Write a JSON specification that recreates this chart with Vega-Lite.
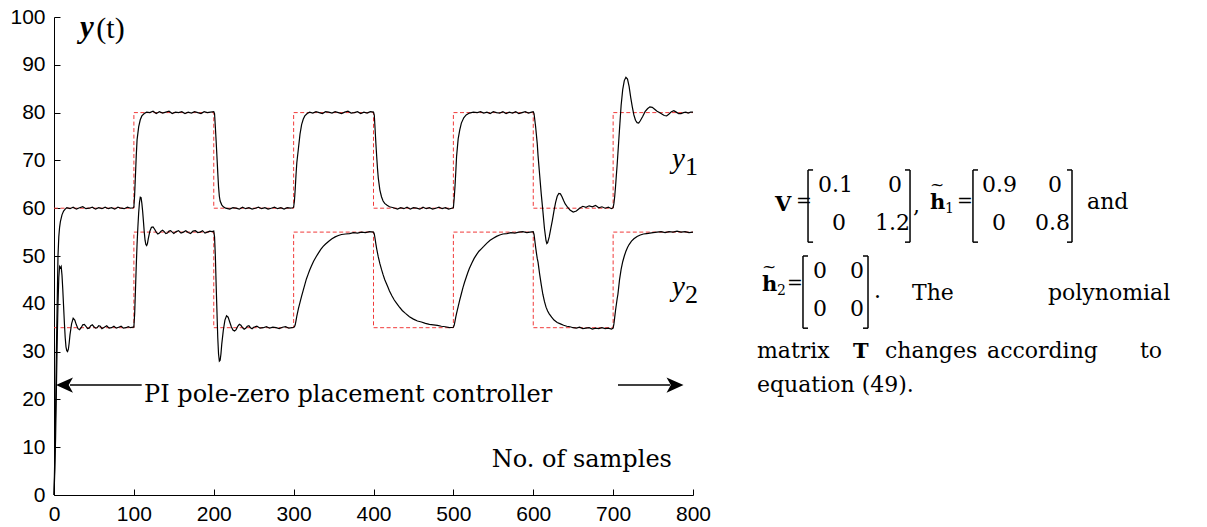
{
"$schema": "https://vega.github.io/schema/vega-lite/v6.json",
"width": 639, "height": 478,
"autosize": {"type": "none"},
"padding": {"left": 54, "top": 17, "right": 514, "bottom": 32},
"background": "white",
"config": {"view": {"stroke": null}},
"datasets": {
"y1": [{"t":0,"v":0},{"t":1,"v":8},{"t":2,"v":18},{"t":3,"v":30},{"t":4,"v":40},{"t":5,"v":50},{"t":6,"v":54},{"t":7,"v":56},{"t":8,"v":57.2},{"t":10,"v":58.6},{"t":12,"v":59.4},{"t":14,"v":59.8},{"t":16,"v":60.1},{"t":20,"v":59.9},{"t":24,"v":60.2},{"t":28,"v":59.8},{"t":32,"v":60.1},{"t":36,"v":60.3},{"t":40,"v":59.9},{"t":44,"v":60.0},{"t":48,"v":60.2},{"t":52,"v":59.8},{"t":56,"v":60.1},{"t":60,"v":59.9},{"t":64,"v":60.2},{"t":68,"v":59.9},{"t":72,"v":60.1},{"t":76,"v":59.8},{"t":80,"v":60.2},{"t":84,"v":60.0},{"t":88,"v":59.9},{"t":92,"v":60.2},{"t":96,"v":60.0},{"t":99,"v":60.1},
{"t":100,"v":60.2},{"t":101,"v":63},{"t":102,"v":67},{"t":103,"v":71},{"t":104,"v":74.3},{"t":106,"v":77},{"t":108,"v":78.5},{"t":110,"v":79.3},{"t":113,"v":79.8},{"t":116,"v":80.1},{"t":120,"v":80.0},{"t":124,"v":80.3},{"t":128,"v":79.8},{"t":132,"v":80.2},{"t":136,"v":79.9},{"t":140,"v":80.1},{"t":144,"v":80.3},{"t":148,"v":79.8},{"t":152,"v":80.1},{"t":156,"v":80.0},{"t":160,"v":80.2},{"t":164,"v":79.8},{"t":168,"v":80.1},{"t":172,"v":79.9},{"t":176,"v":80.2},{"t":180,"v":80.0},{"t":184,"v":79.8},{"t":188,"v":80.2},{"t":192,"v":80.0},{"t":196,"v":80.1},{"t":200,"v":80.2},
{"t":201,"v":79.8},{"t":202,"v":77},{"t":203,"v":74},{"t":204,"v":70.8},{"t":205,"v":67.5},{"t":206,"v":64.5},{"t":207,"v":62.5},{"t":208,"v":61.5},{"t":210,"v":60.7},{"t":212,"v":60.3},{"t":215,"v":60.0},{"t":220,"v":59.8},{"t":224,"v":60.1},{"t":228,"v":60.0},{"t":232,"v":59.8},{"t":236,"v":60.2},{"t":240,"v":59.9},{"t":244,"v":60.1},{"t":248,"v":59.8},{"t":252,"v":60.0},{"t":256,"v":60.2},{"t":260,"v":59.9},{"t":264,"v":60.1},{"t":268,"v":59.8},{"t":272,"v":60.0},{"t":276,"v":60.2},{"t":280,"v":59.9},{"t":284,"v":60.1},{"t":288,"v":59.8},{"t":292,"v":60.1},{"t":296,"v":60.0},{"t":299,"v":60.1},
{"t":300,"v":60.2},{"t":301,"v":61.5},{"t":302,"v":64},{"t":303,"v":67},{"t":304,"v":69.5},{"t":306,"v":72.5},{"t":308,"v":75.5},{"t":310,"v":77.5},{"t":312,"v":78.6},{"t":314,"v":79.3},{"t":317,"v":79.8},{"t":320,"v":80.1},{"t":324,"v":79.9},{"t":328,"v":80.2},{"t":332,"v":80.0},{"t":336,"v":79.8},{"t":340,"v":80.2},{"t":344,"v":80.1},{"t":348,"v":79.9},{"t":352,"v":80.2},{"t":356,"v":80.0},{"t":360,"v":79.8},{"t":364,"v":80.1},{"t":368,"v":80.3},{"t":372,"v":79.9},{"t":376,"v":80.0},{"t":380,"v":80.2},{"t":384,"v":79.8},{"t":388,"v":80.1},{"t":392,"v":79.9},{"t":396,"v":80.2},{"t":400,"v":80.1},
{"t":401,"v":79.5},{"t":402,"v":76.5},{"t":403,"v":73.5},{"t":404,"v":70.8},{"t":405,"v":68.3},{"t":406,"v":66.3},{"t":408,"v":63.8},{"t":410,"v":62.4},{"t":412,"v":61.5},{"t":414,"v":61.0},{"t":417,"v":60.6},{"t":420,"v":60.3},{"t":425,"v":60.1},{"t":430,"v":59.8},{"t":434,"v":60.1},{"t":438,"v":59.9},{"t":442,"v":60.2},{"t":446,"v":59.8},{"t":450,"v":60.1},{"t":454,"v":60.0},{"t":458,"v":59.8},{"t":462,"v":60.2},{"t":466,"v":59.9},{"t":470,"v":60.1},{"t":474,"v":59.8},{"t":478,"v":60.0},{"t":482,"v":60.2},{"t":486,"v":59.9},{"t":490,"v":60.1},{"t":494,"v":59.8},{"t":498,"v":60.0},{"t":500,"v":60.1},
{"t":501,"v":62},{"t":502,"v":64.5},{"t":503,"v":67.5},{"t":504,"v":70.8},{"t":506,"v":74.5},{"t":508,"v":76.4},{"t":510,"v":77.8},{"t":513,"v":78.9},{"t":516,"v":79.5},{"t":520,"v":79.9},{"t":525,"v":80.1},{"t":530,"v":80.0},{"t":534,"v":80.2},{"t":538,"v":79.9},{"t":542,"v":80.1},{"t":546,"v":79.8},{"t":550,"v":80.2},{"t":554,"v":80.0},{"t":558,"v":79.9},{"t":562,"v":80.2},{"t":566,"v":79.8},{"t":570,"v":80.1},{"t":574,"v":79.9},{"t":578,"v":80.2},{"t":582,"v":79.8},{"t":586,"v":80.0},{"t":590,"v":80.2},{"t":594,"v":79.9},{"t":598,"v":80.1},{"t":600,"v":80.2},
{"t":601,"v":79.8},{"t":603,"v":77},{"t":605,"v":73.5},{"t":606,"v":71},{"t":608,"v":67},{"t":610,"v":63},{"t":612,"v":59.5},{"t":614,"v":55.8},{"t":616,"v":53.2},{"t":617,"v":52.6},{"t":618,"v":52.8},{"t":620,"v":54},{"t":622,"v":55.8},{"t":624,"v":57.5},{"t":626,"v":59.5},{"t":628,"v":61.2},{"t":630,"v":62.5},{"t":632,"v":63.1},{"t":634,"v":63.0},{"t":636,"v":62.4},{"t":638,"v":61.6},{"t":640,"v":60.9},{"t":643,"v":60.2},{"t":646,"v":59.6},{"t":650,"v":59.2},{"t":654,"v":59.4},{"t":658,"v":60.0},{"t":662,"v":60.4},{"t":666,"v":60.2},{"t":670,"v":60.5},{"t":674,"v":60.3},{"t":678,"v":60.6},{"t":682,"v":60.1},{"t":686,"v":60.3},{"t":690,"v":60.0},{"t":694,"v":60.2},{"t":698,"v":59.9},{"t":700,"v":60.1},
{"t":701,"v":61},{"t":702,"v":62.5},{"t":703,"v":64.5},{"t":704,"v":66.8},{"t":705,"v":69},{"t":706,"v":71.5},{"t":707,"v":74},{"t":708,"v":76.5},{"t":709,"v":79},{"t":710,"v":81.5},{"t":712,"v":84.8},{"t":714,"v":86.7},{"t":716,"v":87.4},{"t":718,"v":87.0},{"t":720,"v":85.5},{"t":722,"v":83.2},{"t":724,"v":81.2},{"t":726,"v":79.5},{"t":728,"v":78.4},{"t":730,"v":77.9},{"t":732,"v":77.8},{"t":734,"v":78.3},{"t":737,"v":79.2},{"t":740,"v":80.2},{"t":743,"v":80.8},{"t":746,"v":81.2},{"t":749,"v":81.1},{"t":752,"v":80.7},{"t":755,"v":80.3},{"t":758,"v":80.0},{"t":761,"v":79.7},{"t":764,"v":79.4},{"t":767,"v":79.3},{"t":770,"v":79.7},{"t":773,"v":80.2},{"t":776,"v":80.4},{"t":779,"v":80.1},{"t":782,"v":79.8},{"t":785,"v":79.8},{"t":788,"v":80.0},{"t":791,"v":80.1},{"t":794,"v":79.9},{"t":797,"v":80.1},{"t":800,"v":80.1}],
"y2": [{"t":0,"v":0},{"t":1,"v":5},{"t":2,"v":12},{"t":3,"v":22},{"t":4,"v":32},{"t":5,"v":40},{"t":6,"v":45.5},{"t":7,"v":47.8},{"t":8,"v":47.5},{"t":9,"v":47.8},{"t":10,"v":46},{"t":11,"v":43},{"t":12,"v":39.5},{"t":13,"v":36},{"t":14,"v":33},{"t":15,"v":31},{"t":16,"v":30.2},{"t":17,"v":30.0},{"t":18,"v":30.5},{"t":19,"v":31.8},{"t":20,"v":33.5},{"t":22,"v":35.8},{"t":24,"v":37},{"t":26,"v":36.6},{"t":28,"v":35.6},{"t":30,"v":34.8},{"t":32,"v":34.6},{"t":34,"v":35.0},{"t":36,"v":35.6},{"t":38,"v":35.7},{"t":40,"v":35.3},{"t":42,"v":34.8},{"t":44,"v":34.9},{"t":46,"v":35.4},{"t":48,"v":35.6},{"t":50,"v":35.2},{"t":52,"v":34.9},{"t":54,"v":35.0},{"t":56,"v":35.4},{"t":58,"v":35.3},{"t":60,"v":34.8},{"t":63,"v":35.1},{"t":66,"v":35.4},{"t":69,"v":34.9},{"t":72,"v":35.0},{"t":75,"v":35.3},{"t":78,"v":34.9},{"t":81,"v":35.1},{"t":84,"v":35.3},{"t":87,"v":34.9},{"t":90,"v":35.0},{"t":93,"v":35.2},{"t":96,"v":35.0},{"t":99,"v":35.1},
{"t":100,"v":35.1},{"t":101,"v":38},{"t":102,"v":43},{"t":103,"v":48},{"t":104,"v":52.5},{"t":105,"v":56},{"t":106,"v":59},{"t":107,"v":61.2},{"t":108,"v":62.3},{"t":109,"v":62.2},{"t":110,"v":61},{"t":111,"v":59.3},{"t":112,"v":57.2},{"t":113,"v":55},{"t":114,"v":53.3},{"t":115,"v":52.4},{"t":116,"v":52.2},{"t":117,"v":52.6},{"t":118,"v":53.6},{"t":120,"v":55.2},{"t":122,"v":56.0},{"t":124,"v":56.1},{"t":126,"v":55.6},{"t":128,"v":55.0},{"t":130,"v":54.6},{"t":132,"v":54.8},{"t":134,"v":55.2},{"t":136,"v":55.4},{"t":138,"v":55.1},{"t":140,"v":54.7},{"t":142,"v":54.8},{"t":144,"v":55.2},{"t":146,"v":55.3},{"t":148,"v":55.0},{"t":150,"v":54.7},{"t":153,"v":55.1},{"t":156,"v":55.3},{"t":159,"v":54.8},{"t":162,"v":55.0},{"t":165,"v":55.3},{"t":168,"v":54.9},{"t":171,"v":54.7},{"t":174,"v":55.2},{"t":177,"v":55.3},{"t":180,"v":54.9},{"t":183,"v":55.0},{"t":186,"v":55.3},{"t":189,"v":54.8},{"t":192,"v":55.0},{"t":195,"v":55.2},{"t":198,"v":55.1},{"t":200,"v":55.2},
{"t":201,"v":54},{"t":202,"v":50},{"t":203,"v":44},{"t":204,"v":38.5},{"t":205,"v":33},{"t":206,"v":29.5},{"t":207,"v":28.0},{"t":208,"v":28.2},{"t":209,"v":29.5},{"t":210,"v":31.5},{"t":212,"v":34.5},{"t":214,"v":36.6},{"t":216,"v":37.5},{"t":218,"v":37.2},{"t":220,"v":36.2},{"t":222,"v":35.2},{"t":224,"v":34.5},{"t":226,"v":34.3},{"t":228,"v":34.6},{"t":230,"v":35.3},{"t":232,"v":35.7},{"t":234,"v":35.5},{"t":236,"v":35.0},{"t":238,"v":34.7},{"t":240,"v":34.9},{"t":242,"v":35.3},{"t":244,"v":35.4},{"t":246,"v":35.0},{"t":248,"v":34.8},{"t":250,"v":35.1},{"t":254,"v":35.3},{"t":258,"v":34.9},{"t":262,"v":35.0},{"t":266,"v":35.2},{"t":270,"v":34.9},{"t":274,"v":35.1},{"t":278,"v":35.0},{"t":282,"v":34.8},{"t":286,"v":35.1},{"t":290,"v":35.2},{"t":294,"v":34.9},{"t":298,"v":35.0},{"t":300,"v":35.1},
{"t":301,"v":35.2},{"t":302,"v":35.6},{"t":303,"v":36.5},{"t":304,"v":37.4},{"t":306,"v":39.0},{"t":308,"v":40.3},{"t":310,"v":41.6},{"t":312,"v":42.8},{"t":314,"v":44.0},{"t":316,"v":45.2},{"t":318,"v":46.1},{"t":320,"v":47.0},{"t":322,"v":47.8},{"t":325,"v":48.9},{"t":328,"v":49.8},{"t":331,"v":50.6},{"t":334,"v":51.4},{"t":337,"v":52.0},{"t":340,"v":52.5},{"t":344,"v":53.1},{"t":348,"v":53.6},{"t":352,"v":54.0},{"t":356,"v":54.3},{"t":360,"v":54.5},{"t":365,"v":54.6},{"t":370,"v":54.7},{"t":375,"v":54.9},{"t":380,"v":54.8},{"t":385,"v":55.0},{"t":390,"v":54.9},{"t":395,"v":55.1},{"t":400,"v":55.0},
{"t":401,"v":54.6},{"t":402,"v":53.6},{"t":403,"v":52.5},{"t":404,"v":51.5},{"t":406,"v":49.8},{"t":408,"v":48.4},{"t":410,"v":47.2},{"t":412,"v":46.1},{"t":414,"v":45.1},{"t":416,"v":44.3},{"t":418,"v":43.5},{"t":420,"v":42.7},{"t":423,"v":41.7},{"t":426,"v":40.8},{"t":429,"v":40.1},{"t":432,"v":39.4},{"t":436,"v":38.6},{"t":440,"v":38.0},{"t":445,"v":37.3},{"t":450,"v":36.8},{"t":455,"v":36.4},{"t":460,"v":36.2},{"t":465,"v":35.9},{"t":470,"v":35.7},{"t":475,"v":35.6},{"t":480,"v":35.5},{"t":485,"v":35.3},{"t":490,"v":35.2},{"t":495,"v":35.0},{"t":500,"v":35.1},
{"t":501,"v":35.5},{"t":502,"v":36.3},{"t":503,"v":37.2},{"t":504,"v":38.0},{"t":506,"v":39.4},{"t":508,"v":40.8},{"t":510,"v":42.1},{"t":512,"v":43.4},{"t":514,"v":44.5},{"t":516,"v":45.5},{"t":518,"v":46.5},{"t":520,"v":47.4},{"t":523,"v":48.5},{"t":526,"v":49.5},{"t":529,"v":50.3},{"t":532,"v":51.0},{"t":535,"v":51.5},{"t":538,"v":52.0},{"t":542,"v":52.7},{"t":546,"v":53.3},{"t":550,"v":53.7},{"t":554,"v":54.1},{"t":558,"v":54.4},{"t":562,"v":54.6},{"t":567,"v":54.7},{"t":572,"v":54.9},{"t":577,"v":54.8},{"t":582,"v":55.0},{"t":587,"v":55.1},{"t":592,"v":54.9},{"t":596,"v":55.0},{"t":600,"v":55.1},
{"t":601,"v":54.5},{"t":602,"v":53.2},{"t":603,"v":51.8},{"t":604,"v":50.6},{"t":605,"v":49.5},{"t":606,"v":48.7},{"t":608,"v":46.2},{"t":610,"v":44.0},{"t":612,"v":42.0},{"t":614,"v":40.5},{"t":616,"v":39.3},{"t":618,"v":38.5},{"t":620,"v":37.9},{"t":623,"v":37.2},{"t":626,"v":36.6},{"t":630,"v":36.1},{"t":634,"v":35.8},{"t":638,"v":35.5},{"t":642,"v":35.3},{"t":646,"v":35.2},{"t":650,"v":35.0},{"t":654,"v":34.9},{"t":658,"v":35.1},{"t":662,"v":34.8},{"t":666,"v":34.9},{"t":670,"v":35.0},{"t":674,"v":34.7},{"t":678,"v":34.9},{"t":682,"v":34.8},{"t":686,"v":35.0},{"t":690,"v":34.8},{"t":694,"v":34.9},{"t":698,"v":34.7},{"t":700,"v":34.9},
{"t":701,"v":35.8},{"t":702,"v":37.2},{"t":703,"v":38.6},{"t":704,"v":39.8},{"t":705,"v":41.0},{"t":706,"v":42.0},{"t":708,"v":45.0},{"t":710,"v":47.2},{"t":712,"v":48.8},{"t":714,"v":50.0},{"t":716,"v":51.0},{"t":718,"v":51.8},{"t":720,"v":52.4},{"t":723,"v":53.1},{"t":726,"v":53.6},{"t":730,"v":54.1},{"t":734,"v":54.4},{"t":738,"v":54.6},{"t":742,"v":54.7},{"t":746,"v":54.8},{"t":750,"v":54.9},{"t":755,"v":55.0},{"t":760,"v":55.1},{"t":765,"v":54.9},{"t":770,"v":55.1},{"t":775,"v":55.0},{"t":780,"v":55.2},{"t":785,"v":55.0},{"t":790,"v":55.1},{"t":795,"v":54.9},{"t":800,"v":55.0}],
"sp": [{"t":0,"v":60,"s":"r1"},{"t":100,"v":80,"s":"r1"},{"t":200,"v":60,"s":"r1"},{"t":300,"v":80,"s":"r1"},{"t":400,"v":60,"s":"r1"},{"t":500,"v":80,"s":"r1"},{"t":600,"v":60,"s":"r1"},{"t":700,"v":80,"s":"r1"},{"t":800,"v":80,"s":"r1"},
{"t":0,"v":35,"s":"r2"},{"t":100,"v":55,"s":"r2"},{"t":200,"v":35,"s":"r2"},{"t":300,"v":55,"s":"r2"},{"t":400,"v":35,"s":"r2"},{"t":500,"v":55,"s":"r2"},{"t":600,"v":35,"s":"r2"},{"t":700,"v":55,"s":"r2"},{"t":800,"v":55,"s":"r2"}],
"arrows": [{"t":109.8,"v":23.0,"g":"L"},{"t":20,"v":23.0,"g":"L"},{"t":706.1,"v":23.0,"g":"R"},{"t":771.2,"v":23.0,"g":"R"}],
"headL": [{"t":13.1,"v":23.0}],
"headR": [{"t":777.5,"v":23.0}],
"labels24": [{"t":112.7,"v":19.5,"txt":"PI pole-zero placement controller"},{"t":548.0,"v":5.9,"txt":"No. of samples"}],
"ybi": [{"t":32.5,"v":95.8,"txt":"y"}],
"yt": [{"t":53.0,"v":95.6,"txt":"(t)"}],
"yit": [{"t":773.7,"v":68.4,"txt":"y"},{"t":773.7,"v":41.6,"txt":"y"}],
"ysub": [{"t":790.0,"v":66.9,"txt":"1"},{"t":790.0,"v":40.2,"txt":"2"}],
"req": [{"t":928.9,"v":60.25,"txt":"="},{"t":1130.5,"v":60.25,"txt":"="},{"t":917.7,"v":43.1,"txt":"="}],
"rtxt": [{"t":956.5,"v":63.4,"txt":"0.1"},{"t":1044.1,"v":63.4,"txt":"0"},{"t":974.0,"v":55.4,"txt":"0"},{"t":1027.9,"v":55.4,"txt":"1.2"},{"t":1075.4,"v":59.0,"txt":","},{"t":1161.8,"v":63.4,"txt":"0.9"},{"t":1244.4,"v":63.4,"txt":"0"},{"t":1174.3,"v":55.4,"txt":"0"},{"t":1228.2,"v":55.4,"txt":"0.8"},{"t":1293.3,"v":59.8,"txt":"and"},
{"t":950.2,"v":45.4,"txt":"0"},{"t":996.6,"v":45.4,"txt":"0"},{"t":950.2,"v":37.4,"txt":"0"},{"t":996.6,"v":37.4,"txt":"0"},{"t":1026.6,"v":41.2,"txt":"."},{"t":1074.2,"v":40.8,"txt":"The"},{"t":1244.4,"v":40.8,"txt":"polynomial"},
{"t":880.1,"v":28.7,"txt":"matrix"},{"t":1040.4,"v":28.7,"txt":"changes"},{"t":1168.1,"v":28.7,"txt":"according"},{"t":1359.6,"v":28.7,"txt":"to"},{"t":880.1,"v":21.5,"txt":"equation (49)."}],
"rbold": [{"t":902.7,"v":59.4,"txt":"V"},{"t":1096.7,"v":59.8,"txt":"h"},{"t":886.4,"v":42.7,"txt":"h"},{"t":1000.3,"v":28.7,"txt":"T"}],
"rsub": [{"t":1115.5,"v":59.0,"txt":"1"},{"t":905.2,"v":41.8,"txt":"2"}],
"tilde": [{"t":1105.5,"v":63.8,"txt":"~"},{"t":895.2,"v":46.6,"txt":"~"}],
"brackets": [
{"t":944.0,"t2":944.0,"v":68.0,"v2":52.9},{"t":944.0,"t2":950.3,"v":68.0,"v2":68.0},{"t":944.0,"t2":950.3,"v":52.9,"v2":52.9},
{"t":1071.7,"t2":1071.7,"v":68.0,"v2":52.9},{"t":1065.4,"t2":1071.7,"v":68.0,"v2":68.0},{"t":1065.4,"t2":1071.7,"v":52.9,"v2":52.9},
{"t":1150.5,"t2":1150.5,"v":68.0,"v2":52.9},{"t":1150.5,"t2":1156.8,"v":68.0,"v2":68.0},{"t":1150.5,"t2":1156.8,"v":52.9,"v2":52.9},
{"t":1274.5,"t2":1274.5,"v":68.0,"v2":52.9},{"t":1268.2,"t2":1274.5,"v":68.0,"v2":68.0},{"t":1268.2,"t2":1274.5,"v":52.9,"v2":52.9},
{"t":937.7,"t2":937.7,"v":50.0,"v2":34.9},{"t":937.7,"t2":944.0,"v":50.0,"v2":50.0},{"t":937.7,"t2":944.0,"v":34.9,"v2":34.9},
{"t":1019.1,"t2":1019.1,"v":50.0,"v2":34.9},{"t":1012.8,"t2":1019.1,"v":50.0,"v2":50.0},{"t":1012.8,"t2":1019.1,"v":34.9,"v2":34.9}]
},
"encoding": {
"x": {"field": "t", "type": "quantitative", "scale": {"domain": [0, 800], "nice": false, "zero": false},
 "axis": {"values": [0,100,200,300,400,500,600,700,800], "grid": false, "title": null, "domainColor": "#000", "tickColor": "#000", "labelColor": "#000", "labelFont": "Liberation Sans", "labelFontSize": 21, "tickSize": -6, "labelPadding": 14, "labelBaseline": "top", "labelFlush": false}},
"y": {"field": "v", "type": "quantitative", "scale": {"domain": [0, 100], "nice": false, "zero": false},
 "axis": {"values": [0,10,20,30,40,50,60,70,80,90,100], "grid": false, "title": null, "domainColor": "#000", "tickColor": "#000", "labelColor": "#000", "labelFont": "Liberation Sans", "labelFontSize": 21, "tickSize": -6, "labelPadding": 15, "labelFlush": false}}
},
"layer": [
{"data": {"name": "sp"}, "mark": {"type": "line", "clip": false, "interpolate": "step-after", "color": "#f03a3a", "strokeWidth": 1, "strokeDash": [4, 2.5]}, "encoding": {"detail": {"field": "s"}}},
{"data": {"name": "y1"}, "mark": {"type": "line", "clip": false, "color": "#000", "strokeWidth": 1.2}},
{"data": {"name": "y2"}, "mark": {"type": "line", "clip": false, "color": "#000", "strokeWidth": 1.2}},
{"data": {"name": "arrows"}, "mark": {"type": "line", "clip": false, "color": "#000", "strokeWidth": 1.5}, "encoding": {"detail": {"field": "g"}}},
{"data": {"name": "headL"}, "mark": {"type": "point", "clip": false, "filled": true, "color": "#000", "opacity": 1, "size": 289, "shape": "M-1,0L1,-0.9L0.5,0L1,0.9Z"}},
{"data": {"name": "headR"}, "mark": {"type": "point", "clip": false, "filled": true, "color": "#000", "opacity": 1, "size": 289, "shape": "M1,0L-1,-0.9L-0.5,0L-1,0.9Z"}},
{"data": {"name": "labels24"}, "mark": {"type": "text", "clip": false, "align": "left", "baseline": "alphabetic", "font": "DejaVu Serif", "fontSize": 24, "color": "#000"}, "encoding": {"text": {"field": "txt"}}},
{"data": {"name": "ybi"}, "mark": {"type": "text", "clip": false, "align": "left", "baseline": "alphabetic", "font": "Liberation Serif", "fontSize": 31, "fontWeight": "bold", "fontStyle": "italic", "color": "#000"}, "encoding": {"text": {"field": "txt"}}},
{"data": {"name": "yt"}, "mark": {"type": "text", "clip": false, "align": "left", "baseline": "alphabetic", "font": "Liberation Serif", "fontSize": 30, "color": "#000"}, "encoding": {"text": {"field": "txt"}}},
{"data": {"name": "yit"}, "mark": {"type": "text", "clip": false, "align": "left", "baseline": "alphabetic", "font": "Liberation Serif", "fontSize": 29, "fontStyle": "italic", "color": "#000"}, "encoding": {"text": {"field": "txt"}}},
{"data": {"name": "ysub"}, "mark": {"type": "text", "clip": false, "align": "left", "baseline": "alphabetic", "font": "Liberation Serif", "fontSize": 26, "color": "#000"}, "encoding": {"text": {"field": "txt"}}},
{"data": {"name": "req"}, "mark": {"type": "text", "clip": false, "align": "left", "baseline": "alphabetic", "font": "DejaVu Serif", "fontSize": 19, "color": "#000"}, "encoding": {"text": {"field": "txt"}}},
{"data": {"name": "rtxt"}, "mark": {"type": "text", "clip": false, "align": "left", "baseline": "alphabetic", "font": "DejaVu Serif", "fontSize": 22, "color": "#000"}, "encoding": {"text": {"field": "txt"}}},
{"data": {"name": "rbold"}, "mark": {"type": "text", "clip": false, "align": "left", "baseline": "alphabetic", "font": "DejaVu Serif", "fontSize": 21, "fontWeight": "bold", "color": "#000"}, "encoding": {"text": {"field": "txt"}}},
{"data": {"name": "rsub"}, "mark": {"type": "text", "clip": false, "align": "left", "baseline": "alphabetic", "font": "DejaVu Serif", "fontSize": 14, "color": "#000"}, "encoding": {"text": {"field": "txt"}}},
{"data": {"name": "tilde"}, "mark": {"type": "text", "clip": false, "align": "center", "baseline": "alphabetic", "font": "DejaVu Serif", "fontSize": 17, "color": "#000"}, "encoding": {"text": {"field": "txt"}}},
{"data": {"name": "brackets"}, "mark": {"type": "rule", "clip": false, "color": "#000", "strokeWidth": 1.5}, "encoding": {"x2": {"field": "t2"}, "y2": {"field": "v2"}}}
]
}
